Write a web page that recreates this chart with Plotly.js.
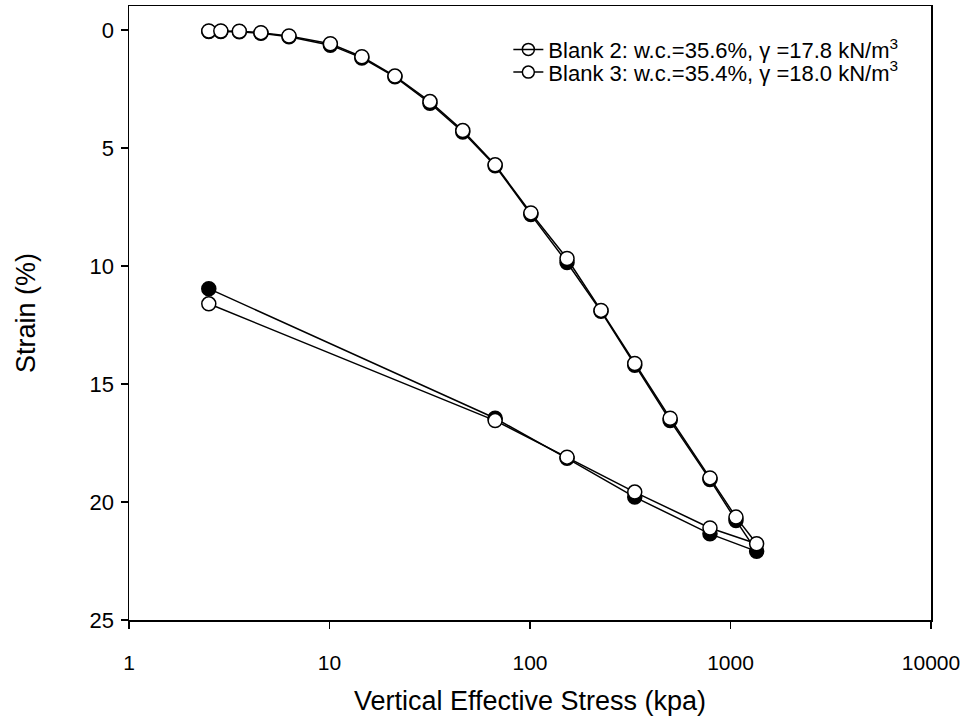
<!DOCTYPE html>
<html>
<head>
<meta charset="utf-8">
<script src="https://cdn.plot.ly/plotly-3.0.1.min.js"></script>
<style>html,body{margin:0;padding:0;background:#fff;}#chart{width:967px;height:725px;}</style>
</head>
<body>
<div id="chart"></div>
<script>
// Loading stage (vertical effective stress, kPa)
var loadStress = [2.5, 2.87, 3.55, 4.55, 6.28, 10.1, 14.5, 21.2, 31.7, 46.2, 67, 101, 153, 226, 333, 500, 790, 1065, 1350];
var blank2Load = [0.06, 0.06, 0.07, 0.14, 0.28, 0.64, 1.18, 1.98, 3.1, 4.32, 5.75, 7.82, 9.85, 11.92, 14.2, 16.55, 19.05, 20.78, 22.09];
var blank3Load = [0.04, 0.04, 0.05, 0.11, 0.25, 0.58, 1.13, 1.95, 3.03, 4.26, 5.71, 7.75, 9.68, 11.88, 14.13, 16.45, 18.98, 20.64, 21.77];
// Unloading stage
var unloadStress = [790, 333, 153, 67, 2.5];
var blank2Unload = [21.35, 19.79, 18.15, 16.45, 10.96];
var blank3Unload = [21.1, 19.58, 18.1, 16.55, 11.6];

var xTicks = [1, 10, 100, 1000, 10000];
var xTickText = ['1', '10', '100', '1000', '10000'];
var yTicks = [0, 5, 10, 15, 20, 25];

var name2 = 'Blank 2: w.c.=35.6%, \u03b3 =17.8 kN/m<sup>3</sup>';
var name3 = 'Blank 3: w.c.=35.4%, \u03b3 =18.0 kN/m<sup>3</sup>';

var trace2 = {
  x: loadStress.concat(unloadStress),
  y: blank2Load.concat(blank2Unload),
  mode: 'lines+markers', type: 'scatter', showlegend: false,
  line: {color: '#000', width: 1.5},
  marker: {symbol: 'circle', size: 14, color: '#000', line: {color: '#000', width: 1.5}}
};
var trace3 = {
  x: loadStress.concat(unloadStress),
  y: blank3Load.concat(blank3Unload),
  mode: 'lines+markers', type: 'scatter', showlegend: false,
  line: {color: '#000', width: 1.5},
  marker: {symbol: 'circle', size: 14, color: '#fff', line: {color: '#000', width: 1.5}}
};
var leg2 = {
  x: [null], y: [null], name: name2, mode: 'lines+markers', type: 'scatter', legend: 'legend',
  line: {color: '#000', width: 1.5},
  marker: {symbol: 'circle-open', size: 12, color: '#000', line: {color: '#000', width: 1.5}}
};
var leg3 = {
  x: [null], y: [null], name: name3, mode: 'lines+markers', type: 'scatter', legend: 'legend2',
  line: {color: '#000', width: 1.5},
  marker: {symbol: 'circle', size: 12, color: '#fff', line: {color: '#000', width: 1.5}}
};

var fam = 'Arial, "Liberation Sans", sans-serif';
var font = {family: fam, color: '#000', size: 20};
var legFont = {family: fam, size: 22, color: '#000'};

var layout = {
  width: 967, height: 725,
  margin: {l: 129, r: 36, t: 6, b: 105},
  paper_bgcolor: '#fff', plot_bgcolor: '#fff',
  font: font,
  showlegend: true,
  legend: {x: 0.473, y: 0.929, xanchor: 'left', yanchor: 'middle', bgcolor: 'rgba(0,0,0,0)', font: legFont},
  legend2: {x: 0.473, y: 0.892, xanchor: 'left', yanchor: 'middle', bgcolor: 'rgba(0,0,0,0)', font: legFont},
  xaxis: {
    type: 'log', range: [0, 4], tickvals: xTicks, ticktext: xTickText,
    showgrid: false, zeroline: false,
    showline: true, linecolor: '#000', linewidth: 1.5, mirror: true,
    ticks: 'outside', ticklen: 7, tickwidth: 1.5, tickcolor: '#000',
    tickfont: {family: fam, size: 21, color: '#000'},
    ticklabelstandoff: 16,
    title: {text: 'Vertical Effective Stress (kpa)', font: {family: fam, size: 27, color: '#000'}, standoff: 18}
  },
  yaxis: {
    range: [25, -1.02], tickvals: yTicks,
    showgrid: false, zeroline: false,
    showline: true, linecolor: '#000', linewidth: 1.5, mirror: true,
    ticks: 'outside', ticklen: 7, tickwidth: 1.5, tickcolor: '#000',
    tickfont: {family: fam, size: 22, color: '#000'},
    ticklabelstandoff: 2,
    title: {text: 'Strain (%)', font: {family: fam, size: 27, color: '#000'}, standoff: 46}
  }
};

Plotly.newPlot('chart', [trace2, trace3, leg2, leg3], layout, {displayModeBar: false, staticPlot: true});
</script>
</body>
</html>
